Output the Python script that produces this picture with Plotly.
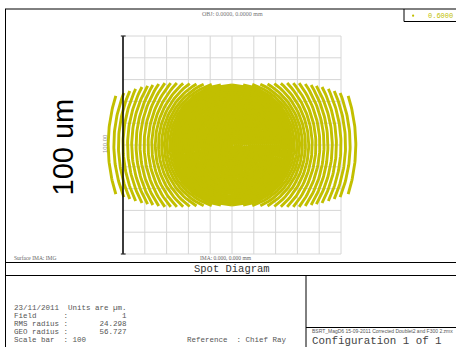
import math
import plotly.graph_objects as go

# ---------------- data ----------------
# spot arcs on each side of the spot (um): mid-height offset from centre,
# horizontal run-back of the arc at its end, and arc half-height
arc_offset_um = [56.8, 54.2, 52.1, 50.0, 47.9, 46.0, 44.0, 42.2, 40.3, 38.5,
                 36.8, 35.2, 33.7, 32.3, 31.0, 29.8, 28.6, 27.5]
arc_top_dx_um = [3.5, 4.6, 5.2, 5.8, 6.6, 7.3, 7.7, 8.6, 9.5, 10.4,
                 11.5, 12.8, 14.3, 16.0, 18.0, 20.5, 23.5, 27.5]
arc_half_h_um = [22.5, 23.9, 24.8, 25.7, 26.6, 27.1, 27.5, 28.0, 28.4, 28.4,
                 28.4, 28.3, 28.2, 28.0, 27.9, 27.8, 27.6, 27.5]
# dense core of the spot: ring radii (um)
core_ring_um = [26.8, 25.9, 25.0, 24.1, 23.2, 22.3, 21.4, 20.5, 19.6, 18.7,
                17.8, 16.9, 16.0, 15.1, 14.2, 13.3, 12.4, 11.5, 10.6, 9.7,
                8.8, 7.9, 7.0, 6.1, 5.2, 4.3, 3.4, 2.5, 1.6, 0.7]

wavelength_label = "0.6000"
scale_bar_um = 100
grid_ticks_um = [-50, -40, -30, -20, -10, 0, 10, 20, 30, 40, 50]

info_lines = [
    "23/11/2011  Units are \u00b5m.",
    "Field      :            1",
    "RMS radius :       24.298",
    "GEO radius :       56.727",
    "Scale bar  : 100",
]
reference_text = "Reference  : Chief Ray"
file_text = "BSRT_MagD6 15-09-2011 Corrected Doublet2 and F300 2.zmx"
config_text = "Configuration 1 of 1"
obj_text = "OBJ: 0.0000, 0.0000 mm"
ima_text = "IMA: 0.000, 0.000 mm"
surf_text = "Surface IMA: IMG"
title_text = "Spot Diagram"

# ---------------- layout helpers ----------------
W, H = 456, 347
CX, CY = 232.0, 145.0      # pixel of spot centre
PX_PER_UM = 2.18

def px(x):
    return x / W

def py(y):
    return 1 - y / H

SPOT = "#c2bf00"

# ---------------- build spot traces ----------------
xs, ys = [], []
N = 50
for off, dx, h in zip(arc_offset_um, arc_top_dx_um, arc_half_h_um):
    R = (h * h + dx * dx) / (2 * dx)
    for side in (-1, 1):
        for i in range(N + 1):
            y = -h + 2 * h * i / N
            run = R - math.sqrt(max(R * R - y * y, 0.0))
            xs.append(side * (off - run))
            ys.append(y)
        xs.append(None)
        ys.append(None)
for r in core_ring_um:
    for i in range(73):
        t = 2 * math.pi * i / 72
        xs.append(r * math.cos(t))
        ys.append(r * math.sin(t))
    xs.append(None)
    ys.append(None)

fig = go.Figure()
fig.add_trace(go.Scatter(x=xs, y=ys, mode="lines",
                         line=dict(color=SPOT, width=2.9),
                         hoverinfo="skip", showlegend=False))

shapes = []
# grid (data coords), beneath the spot
for t in grid_ticks_um:
    shapes.append(dict(type="line", xref="x", yref="y", x0=t, x1=t,
                       y0=grid_ticks_um[0], y1=grid_ticks_um[-1],
                       line=dict(color="#d6d6d6", width=1), layer="below"))
    shapes.append(dict(type="line", xref="x", yref="y", y0=t, y1=t,
                       x0=grid_ticks_um[0], x1=grid_ticks_um[-1],
                       line=dict(color="#d6d6d6", width=1), layer="below"))
# scale bar
half = scale_bar_um / 2
shapes.append(dict(type="line", xref="x", yref="y", x0=-half, x1=-half,
                   y0=-half, y1=half, line=dict(color="black", width=1.5),
                   layer="above"))
for yy in (-half, half):
    shapes.append(dict(type="line", xref="x", yref="y", x0=-half - 1.0,
                       x1=-half + 1.2, y0=yy, y1=yy,
                       line=dict(color="#333", width=1.2), layer="above"))

def pline(x0, y0, x1, y1, w=1.0, c="black"):
    shapes.append(dict(type="line", xref="paper", yref="paper",
                       x0=px(x0), y0=py(y0), x1=px(x1), y1=py(y1),
                       line=dict(color=c, width=w), layer="above"))

# frame
pline(5, 9, 460, 9)
pline(5.5, 9, 5.5, 350)
# legend box
pline(404, 9, 404, 21.5)
pline(404, 21.5, 460, 21.5)
shapes.append(dict(type="circle", xref="paper", yref="paper",
                   x0=px(412), x1=px(414.2), y0=py(14.6), y1=py(16.8),
                   fillcolor=SPOT, line=dict(width=0), layer="above"))
# bottom boxes
pline(5, 262.5, 460, 262.5)
pline(5, 275.5, 460, 275.5)
pline(306, 275.5, 306, 350)
pline(306, 327.5, 460, 327.5)

annotations = []

def text(s, x, y, size, color="#444", family="Liberation Mono",
         xanchor="left", angle=0):
    annotations.append(dict(text=s.replace(" ", "\u00a0"), xref="paper",
                            yref="paper", x=px(x), y=py(y), showarrow=False,
                            xanchor=xanchor, yanchor="middle", textangle=angle,
                            font=dict(size=size, color=color, family=family)))

text(obj_text, 232, 14.5, 6, "#777", "Liberation Serif", "center")
text(wavelength_label, 425.5, 15.5, 7, SPOT, "Liberation Mono")
text("100 um", 62, 147.5, 29, "black", "Liberation Sans", "center", -90)
text("%.2f" % scale_bar_um, 105, 144, 6, "#999", "Liberation Sans", "center", -90)
text(surf_text, 12, 258, 5.5, "#666", "Liberation Serif")
text(ima_text, 226, 258, 5.5, "#666", "Liberation Serif", "center")
text(title_text, 232, 269, 10.5, "#333", "Liberation Mono", "center")
for i, s in enumerate(info_lines):
    text(s, 11.5, 307.5 + 8.2 * i, 7.5, "#555")
text(reference_text, 184.5, 307.5 + 8.2 * 4, 7.5, "#555")
text(file_text, 309.5, 331.3, 5.0, "#555", "Liberation Sans")
text(config_text, 309.5, 340.6, 10.8, "#444")

fig.update_layout(
    width=W, height=H, margin=dict(l=0, r=0, t=0, b=0),
    paper_bgcolor="white", plot_bgcolor="white",
    xaxis=dict(range=[-CX / PX_PER_UM, (W - CX) / PX_PER_UM], visible=False,
               fixedrange=True),
    yaxis=dict(range=[-(H - CY) / PX_PER_UM, CY / PX_PER_UM], visible=False,
               fixedrange=True),
    shapes=shapes, annotations=annotations, showlegend=False,
)
fig.write_html("out.html")
